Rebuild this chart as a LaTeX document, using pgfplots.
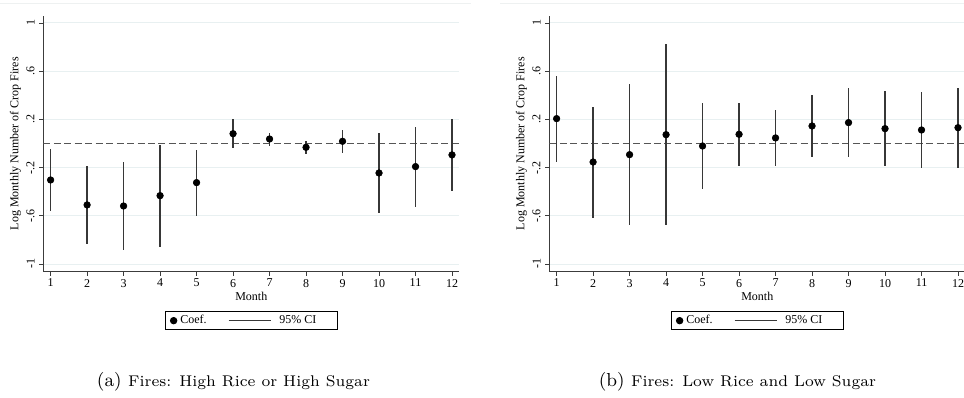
\documentclass[border=0pt]{standalone}
\usepackage{pgfplots}
\pgfplotsset{compat=1.18}
\usepackage{pgfplotstable}
\usepackage{fontspec}
\newfontfamily\stata{Liberation Serif}
\definecolor{gridc}{RGB}{232,240,241}
\definecolor{cic}{RGB}{55,55,55}
\definecolor{axc}{RGB}{60,60,60}

\pgfplotstableread{
m b lo hi
1 -0.303 -0.563 -0.046
2 -0.510 -0.834 -0.187
3 -0.519 -0.884 -0.154
4 -0.433 -0.856 -0.015
5 -0.325 -0.599 -0.057
6 0.081 -0.037 0.200
7 0.037 -0.018 0.087
8 -0.032 -0.087 0.018
9 0.018 -0.079 0.112
10 -0.245 -0.577 0.085
11 -0.192 -0.524 0.137
12 -0.095 -0.397 0.203
}\dataA

\pgfplotstableread{
m b lo hi
1 0.206 -0.151 0.560
2 -0.154 -0.616 0.305
3 -0.093 -0.679 0.494
4 0.073 -0.679 0.826
5 -0.021 -0.380 0.339
6 0.076 -0.184 0.334
7 0.046 -0.187 0.278
8 0.145 -0.112 0.400
9 0.173 -0.115 0.461
10 0.123 -0.184 0.433
11 0.112 -0.206 0.427
12 0.131 -0.201 0.461
}\dataB

\pgfplotsset{
  coeflegend/.style={only marks, mark=*, mark size=2.4pt, black,
    legend image code/.code={\path[draw=none,fill=none] (-3.5pt,0pt) -- (3pt,0pt);\draw[##1] plot coordinates {(0pt,0pt)};}},
  cilegend/.style={cic, line width=1pt,
    legend image code/.code={\path[draw=none] (0pt,0pt) -- (36pt,0pt);\draw[##1] (0pt,0pt) -- (31.5pt,0pt);}},
  stataaxis/.style={
    scale only axis,
    width=312pt, height=191.8pt,
    xmin=0.8, xmax=12.2, ymin=-1.064, ymax=1.058,
    axis lines*=left,
    axis line style={axc, line width=0.8pt},
    xtick={1,2,3,4,5,6,7,8,9,10,11,12},
    ytick={-1,-0.6,-0.2,0.2,0.6,1},
    yticklabels={-1,-.6,-.2,.2,.6,1},
    tick align=outside,
    major tick length=3pt,
    tick style={axc, line width=0.6pt},
    ymajorgrids,
    grid style={gridc, line width=0.7pt},
    /pgf/number format/assume math mode=true,
    ticklabel style={font=\stata\fontsize{9}{10}\selectfont},
    yticklabel style={rotate=90, anchor=south},
    xticklabel style={anchor=north, yshift=1pt},
    label style={font=\stata\fontsize{9}{10}\selectfont},
    xlabel={Month},
    ylabel={Log Monthly Number of Crop Fires},
    xlabel style={at={(axis description cs:0.5,-0.098)}, anchor=center},
    ylabel style={at={(axis description cs:-0.067,0.5)}, anchor=center},
    legend columns=2,
    legend style={at={(0.5,-0.1537)}, anchor=north, draw=black, line width=0.7pt,
      font=\stata\fontsize{9}{10}\selectfont, inner xsep=3pt, inner ysep=1pt,
      /tikz/every even column/.append style={column sep=14pt}},
    legend cell align=left,
  },
  ciplot/.style={only marks, mark=none, forget plot,
    error bars/.cd, y dir=both, y explicit, error mark=none,
    error bar style={cic, line width=1pt}},
  coefplot/.style={only marks, mark=*, mark size=2.5pt, black, forget plot},
  zeroline/.style={forget plot, no marks, color={rgb,255:red,85;green,85;blue,85}, line width=1pt, dash pattern=on 5.25pt off 2.6pt},
}

\begin{document}
\begin{tikzpicture}
\useasboundingbox (0pt,0pt) rectangle (723pt,298.5pt);
% faint region borders
\draw[color={rgb,255:red,238;green,241;blue,241}, line width=0.6pt] (0pt,296.2pt) -- (353pt,296.2pt);
\draw[color={rgb,255:red,238;green,241;blue,241}, line width=0.6pt] (375pt,296.2pt) -- (723pt,296.2pt);

\begin{axis}[stataaxis, at={(32.48pt,94.73pt)}, anchor=south west]
\addplot[zeroline] coordinates {(0.8,0) (12.2,0)};
\addplot[ciplot] table[x=m, y=b, y error plus expr=\thisrow{hi}-\thisrow{b}, y error minus expr=\thisrow{b}-\thisrow{lo}] {\dataA};
\addplot[coefplot] table[x=m, y=b] {\dataA};
\addlegendimage{coeflegend}
\addlegendentry{Coef.}
\addlegendimage{cilegend}
\addlegendentry{95\% CI\hspace*{11pt}}
\end{axis}

\begin{axis}[stataaxis, at={(411.98pt,94.73pt)}, anchor=south west]
\addplot[zeroline] coordinates {(0.8,0) (12.2,0)};
\addplot[ciplot] table[x=m, y=b, y error plus expr=\thisrow{hi}-\thisrow{b}, y error minus expr=\thisrow{b}-\thisrow{lo}] {\dataB};
\addplot[coefplot] table[x=m, y=b] {\dataB};
\addlegendimage{coeflegend}
\addlegendentry{Coef.}
\addlegendimage{cilegend}
\addlegendentry{95\% CI\hspace*{11pt}}
\end{axis}

\node[anchor=center] at (175.1pt,12pt) {\scalebox{1.66}{\fontsize{8.5}{10}\selectfont (a)\ \fontsize{7}{8}\selectfont Fires: High Rice or High Sugar}};
\node[anchor=center] at (553.1pt,12pt) {\scalebox{1.66}{\fontsize{8.5}{10}\selectfont (b)\ \fontsize{7}{8}\selectfont Fires: Low Rice and Low Sugar}};
\end{tikzpicture}
\end{document}
